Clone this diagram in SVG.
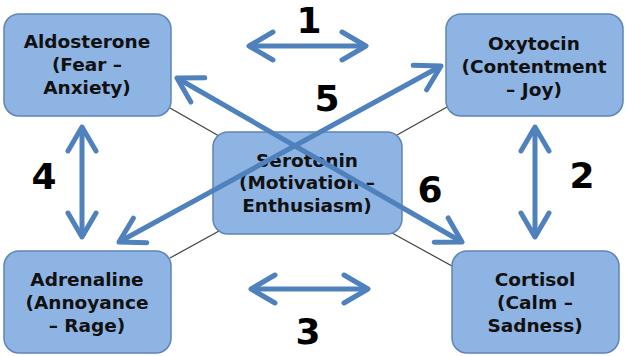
<svg xmlns="http://www.w3.org/2000/svg" width="625" height="356" viewBox="0 0 625 356">
  <style>
    .box { fill: #8eb4e3; stroke: #5f84b7; stroke-width: 1.5; }
    .t { font-family: "DejaVu Sans", Verdana, sans-serif; font-weight: bold; font-size: 18.5px; fill: #111; text-anchor: middle; }
    .num { font-family: "DejaVu Sans", Verdana, sans-serif; font-weight: bold; font-size: 36px; fill: #000; text-anchor: middle; }
    .thin { stroke: #404040; stroke-width: 1.2; fill: none; }
    .arr { stroke: #4f81bd; stroke-width: 5; fill: none; marker-start: url(#head); marker-end: url(#head); }
  </style>
  <defs>
    <marker id="head" markerUnits="userSpaceOnUse" markerWidth="40" markerHeight="40" refX="0" refY="0" orient="auto-start-reverse" overflow="visible" viewBox="-30 -20 40 40">
      <path d="M-24,-14 L0,0 L-24,14" fill="none" stroke="#4f81bd" stroke-width="5" stroke-linecap="round" stroke-linejoin="round"/>
    </marker>
  </defs>
  <rect width="625" height="356" fill="#ffffff"/>

  <g id="connectors">
    <line class="thin" x1="170" y1="108" x2="219" y2="136"/>
    <line class="thin" x1="397" y1="135" x2="447" y2="107"/>
    <line class="thin" x1="170" y1="258" x2="219" y2="231"/>
    <line class="thin" x1="392" y1="233" x2="452" y2="266"/>
  </g>

  <g id="aldosterone">
    <rect class="box" x="4" y="14" width="167" height="102" rx="15"/>
    <text class="t" x="87" y="48">Aldosterone</text>
    <text class="t" x="87" y="71">(Fear –</text>
    <text class="t" x="87" y="94">Anxiety)</text>
  </g>
  <g id="oxytocin">
    <rect class="box" x="446" y="14" width="177" height="102" rx="15"/>
    <text class="t" x="534" y="50">Oxytocin</text>
    <text class="t" x="534" y="73">(Contentment</text>
    <text class="t" x="534" y="96">– Joy)</text>
  </g>
  <g id="adrenaline">
    <rect class="box" x="4" y="251" width="167" height="102" rx="15"/>
    <text class="t" x="87" y="286">Adrenaline</text>
    <text class="t" x="87" y="309">(Annoyance</text>
    <text class="t" x="87" y="332">– Rage)</text>
  </g>
  <g id="cortisol">
    <rect class="box" x="452" y="251" width="167" height="102" rx="15"/>
    <text class="t" x="535" y="286">Cortisol</text>
    <text class="t" x="535" y="309">(Calm –</text>
    <text class="t" x="535" y="332">Sadness)</text>
  </g>
  <g id="serotonin">
    <rect class="box" x="213" y="132" width="189" height="102" rx="15"/>
    <text class="t" x="307" y="167">Serotonin</text>
    <text class="t" x="307" y="189">(Motivation –</text>
    <text class="t" x="307" y="212">Enthusiasm)</text>
  </g>

  <g id="arrows">
    <line class="arr" x1="249" y1="46" x2="366" y2="46"/>
    <line class="arr" x1="251" y1="289" x2="368" y2="289"/>
    <line class="arr" x1="82" y1="127" x2="82" y2="237"/>
    <line class="arr" x1="535" y1="127" x2="535" y2="237"/>
    <line class="arr" x1="119" y1="242" x2="441" y2="66"/>
    <line class="arr" x1="177" y1="78" x2="462" y2="242"/>
  </g>

  <g id="labels">
    <text class="num" x="309" y="33">1</text>
    <text class="num" x="582" y="188">2</text>
    <text class="num" x="308" y="344">3</text>
    <text class="num" x="44" y="189">4</text>
    <text class="num" x="327" y="111">5</text>
    <text class="num" x="430" y="202">6</text>
  </g>
</svg>
